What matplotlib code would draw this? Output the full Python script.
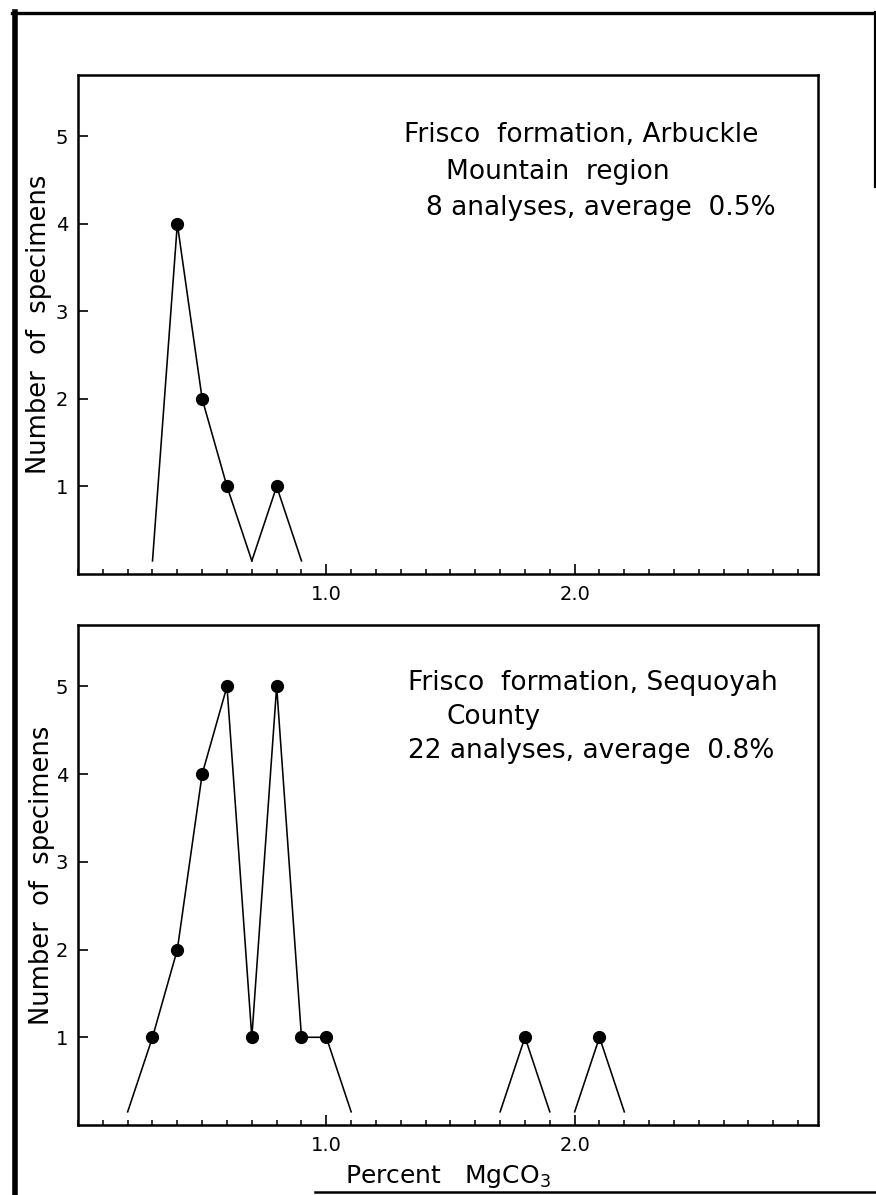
import matplotlib
matplotlib.use("Agg")
import matplotlib.pyplot as plt
from matplotlib.lines import Line2D
from matplotlib.ticker import FixedLocator, MultipleLocator

# MgCO3 content classes (percent) and number of specimens in each class
arbuckle_pct = [0.4, 0.5, 0.6, 0.8]
arbuckle_count = [4, 2, 1, 1]
sequoyah_pct = [0.3, 0.4, 0.5, 0.6, 0.7, 0.8, 0.9, 1.0, 1.8, 2.1]
sequoyah_count = [1, 2, 4, 5, 1, 5, 1, 1, 1, 1]

y_ticks = [1, 2, 3, 4, 5]
x_major = [1.0, 2.0]
x_major_labels = ["1.0", "2.0"]

arbuckle_caption = ["Frisco  formation, Arbuckle",
                    "Mountain  region",
                    "8 analyses, average  0.5%"]
sequoyah_caption = ["Frisco  formation, Sequoyah",
                    "County",
                    "22 analyses, average  0.8%"]

y_title = "Number  of  specimens"
x_title = "Percent   MgCO$_3$"

W, H, DPI = 876, 1195, 100
CLASS = 0.1      # class interval of the frequency polygon
FOOT = 0.15      # polygon legs stop just above the axis

plt.rcParams["font.family"] = ["DejaVu Sans"]
plt.rcParams["mathtext.fontset"] = "dejavusans"

fig = plt.figure(figsize=(W / DPI, H / DPI), dpi=DPI)


def fx(px):
    return px / W


def fy(py):
    return 1 - py / H


def runs(pct, cnt):
    """Split classes into runs of adjacent intervals."""
    out = []
    cur_x, cur_y = [pct[0]], [cnt[0]]
    for x, y in zip(pct[1:], cnt[1:]):
        if abs(x - cur_x[-1] - CLASS) < 1e-6:
            cur_x.append(x)
            cur_y.append(y)
        else:
            out.append((cur_x, cur_y))
            cur_x, cur_y = [x], [y]
    out.append((cur_x, cur_y))
    return out


def panel(top_px, bottom_px, pct, cnt, caption, cap_pos, ylab_x):
    ax = fig.add_axes([fx(78), fy(bottom_px), fx(818) - fx(78),
                       fy(top_px) - fy(bottom_px)])
    for xs, ys in runs(pct, cnt):
        px = [xs[0] - CLASS] + xs + [xs[-1] + CLASS]
        py = [FOOT] + ys + [FOOT]
        ax.plot(px, py, color="black", lw=1.15, solid_joinstyle="miter")
    ax.plot(pct, cnt, "o", color="black", ms=8.5, zorder=3)

    ax.set_xlim(0, 2.98)
    ax.set_ylim(0, 5.7)
    ax.yaxis.set_major_locator(FixedLocator(y_ticks))
    ax.xaxis.set_major_locator(FixedLocator(x_major))
    ax.set_xticklabels(x_major_labels)
    ax.xaxis.set_minor_locator(MultipleLocator(0.1))
    ax.tick_params(axis="y", which="major", direction="in", length=7.5,
                   width=1.2, labelsize=14, pad=7)
    ax.tick_params(axis="x", which="major", direction="in", length=7.5,
                   width=1.2, labelsize=14, pad=8)
    ax.tick_params(axis="x", which="minor", direction="in", length=3.5,
                   width=1.1)
    for sp in ax.spines.values():
        sp.set_linewidth(1.8)

    ax.set_ylabel(y_title, fontsize=18.5, va="center")
    ax.yaxis.set_label_coords(ylab_x, 0.5)

    for line, (x, y) in zip(caption, cap_pos):
        fig.text(fx(x), fy(y), line, fontsize=19, ha="left", va="baseline")
    return ax


panel(75, 574, arbuckle_pct, arbuckle_count, arbuckle_caption,
      [(404, 142), (446, 179), (426, 215)], -0.053)
ax2 = panel(625, 1125, sequoyah_pct, sequoyah_count, sequoyah_caption,
            [(408, 690), (446, 724), (408, 758)], -0.048)
ax2.set_xlabel(x_title, fontsize=18, labelpad=6)

# Outer frame of the plate
frame = [
    ((15, 15), (12, 1195), 4.0),
    ((12, 876), (13, 13), 2.4),
    ((875, 875), (12, 187), 1.6),
    ((315, 876), (1192, 1192), 1.8),
]
for xs, ys, lw in frame:
    fig.add_artist(Line2D([fx(v) for v in xs], [fy(v) for v in ys],
                          transform=fig.transFigure, color="black", lw=lw))

fig.savefig("out.png", dpi=DPI, facecolor="white")
